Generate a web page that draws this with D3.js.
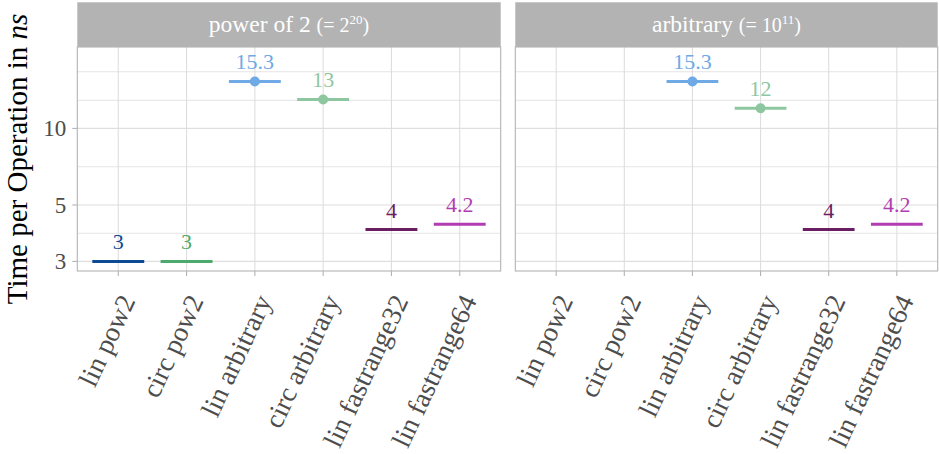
<!DOCTYPE html>
<html>
<head>
<meta charset="utf-8">
<script src="https://cdn.jsdelivr.net/npm/d3@7"></script>
<style>
  body { margin: 0; background: #fff; }
  svg { display: block; }
  text { font-family: "Liberation Serif", "DejaVu Serif", serif; }
</style>
</head>
<body>
<svg id="chart" width="939" height="454"></svg>
<script>
// Benchmark categories (x axis, shared by both facets)
const categories = ["lin pow2", "circ pow2", "lin arbitrary", "circ arbitrary", "lin fastrange32", "lin fastrange64"];

// Facets: label text plus the size shown in parentheses (base^exponent)
const facetNames = ["power of 2", "arbitrary"];
const facetBase = ["2", "10"];
const facetExp = ["20", "11"];

// Time per operation in ns for each category, per facet (null = not measured)
const pow2Times = [3, 3, 15.3, 13, 4, 4.2];
const arbitraryTimes = [null, null, 15.3, 12, 4, 4.2];
const facetValues = [pow2Times, arbitraryTimes];

// Categories drawn with a centre point on their range bar
const pointShown = [false, false, true, true, false, false];

// One colour per category
const seriesColors = ["#0d4a94", "#4caa6c", "#6fa9e6", "#8ec79f", "#6b1d62", "#b23db2"];

// Y axis breaks (log scale)
const yTickValues = [3, 5, 10];
const yMinorValues = [3.87, 7.07, 12.9, 16.7];

const svg = d3.select("#chart");
const W = 939, H = 454;
svg.append("rect").attr("width", W).attr("height", H).attr("fill", "#fff");

const panelTop = 47, panelBottom = 271, stripTop = 2.3;
const panels = [[77.3, 500.7], [515.3, 937.7]];

const GRID = "#dedede", FRAME = "#b3b3b3", AXIS_TEXT = "#4d4d4d";

const y = d3.scaleLog().domain([2.75, 20.9]).range([panelBottom, panelTop]);

panels.forEach(([x0, x1], pi) => {
  const x = d3.scalePoint().domain(categories).range([x0, x1]).padding(0.6);
  const g = svg.append("g");

  // strip
  g.append("rect").attr("x", x0).attr("y", stripTop)
    .attr("width", x1 - x0).attr("height", panelTop - stripTop).attr("fill", FRAME);
  const st = g.append("text").attr("x", (x0 + x1) / 2).attr("y", 31.5)
    .attr("text-anchor", "middle").attr("fill", "#fff");
  st.append("tspan").attr("font-size", 23.5).text(facetNames[pi] + " ");
  st.append("tspan").attr("font-size", 20).text("(= " + facetBase[pi]);
  st.append("tspan").attr("font-size", 13).attr("dy", -8).text(facetExp[pi]);
  st.append("tspan").attr("font-size", 20).attr("dy", 8).text(")");

  // grid
  g.selectAll(".ymin").data(yMinorValues).join("line")
    .attr("x1", x0).attr("x2", x1)
    .attr("y1", d => y(d)).attr("y2", d => y(d))
    .attr("stroke", GRID).attr("stroke-width", 0.8);
  g.selectAll(".ymaj").data(yTickValues).join("line")
    .attr("x1", x0).attr("x2", x1)
    .attr("y1", d => y(d)).attr("y2", d => y(d))
    .attr("stroke", GRID).attr("stroke-width", 1.1);
  g.selectAll(".xmaj").data(categories).join("line")
    .attr("x1", d => x(d)).attr("x2", d => x(d))
    .attr("y1", panelTop).attr("y2", panelBottom)
    .attr("stroke", GRID).attr("stroke-width", 1.1);

  // panel frame
  g.append("rect").attr("x", x0).attr("y", panelTop)
    .attr("width", x1 - x0).attr("height", panelBottom - panelTop)
    .attr("fill", "none").attr("stroke", FRAME).attr("stroke-width", 1.1);

  // x axis ticks and rotated labels
  g.selectAll(".xtick").data(categories).join("line")
    .attr("x1", d => x(d)).attr("x2", d => x(d))
    .attr("y1", panelBottom).attr("y2", panelBottom + 5)
    .attr("stroke", FRAME).attr("stroke-width", 1.1);
  g.selectAll(".xlab").data(categories).join("text")
    .attr("transform", d => `translate(${x(d) + 10},297) rotate(-65)`)
    .attr("text-anchor", "end").attr("dy", "0.3em")
    .attr("font-size", 27.5).attr("fill", AXIS_TEXT)
    .text(d => d);

  // marks
  const half = x.step() * 0.38;
  const rows = categories.map((c, i) => ({ c, i, v: facetValues[pi][i] }))
    .filter(d => d.v != null);
  g.selectAll(".bar").data(rows).join("line")
    .attr("x1", d => x(d.c) - half).attr("x2", d => x(d.c) + half)
    .attr("y1", d => y(d.v)).attr("y2", d => y(d.v))
    .attr("stroke", d => seriesColors[d.i]).attr("stroke-width", 3);
  g.selectAll(".pt").data(rows.filter(d => pointShown[d.i])).join("circle")
    .attr("cx", d => x(d.c)).attr("cy", d => y(d.v)).attr("r", 5)
    .attr("fill", d => seriesColors[d.i]);
  g.selectAll(".val").data(rows).join("text")
    .attr("x", d => x(d.c)).attr("y", d => y(d.v) - 12)
    .attr("text-anchor", "middle").attr("font-size", 22)
    .attr("fill", d => seriesColors[d.i])
    .text(d => String(d.v));

  // y axis on the first panel only
  if (pi === 0) {
    g.selectAll(".ytick").data(yTickValues).join("line")
      .attr("x1", x0 - 5).attr("x2", x0)
      .attr("y1", d => y(d)).attr("y2", d => y(d))
      .attr("stroke", FRAME).attr("stroke-width", 1.1);
    g.selectAll(".ylab").data(yTickValues).join("text")
      .attr("x", x0 - 11).attr("y", d => y(d)).attr("dy", "0.35em")
      .attr("text-anchor", "end").attr("font-size", 23).attr("fill", AXIS_TEXT)
      .text(d => d);
  }
});

// y axis title
const yt = svg.append("text")
  .attr("transform", `translate(27,${(panelTop + panelBottom) / 2}) rotate(-90)`)
  .attr("text-anchor", "middle").attr("font-size", 29).attr("fill", "#000");
yt.append("tspan").text("Time per Operation in ");
yt.append("tspan").attr("font-style", "italic").text("ns");
</script>
</body>
</html>
